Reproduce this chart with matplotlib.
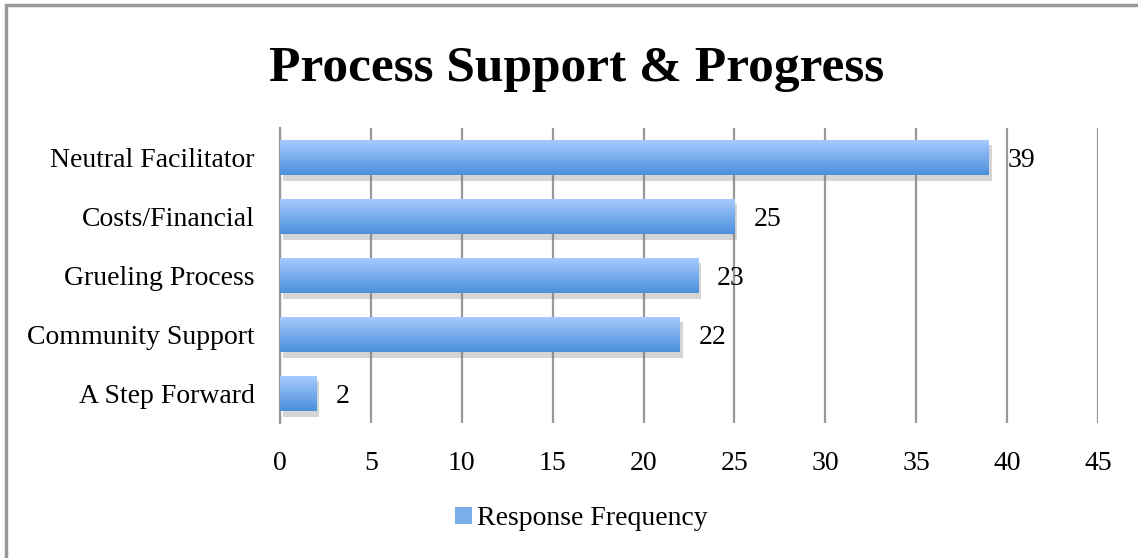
import matplotlib
matplotlib.use("Agg")
import matplotlib.pyplot as plt
import numpy as np
from matplotlib.colors import LinearSegmentedColormap
from matplotlib.patches import Rectangle
from matplotlib import patheffects as pe

categories = ["A Step Forward", "Community Support", "Grueling Process",
              "Costs/Financial", "Neutral Facilitator"]
values = [2, 22, 23, 25, 39]
xticks = [0, 5, 10, 15, 20, 25, 30, 35, 40, 45]
title = "Process Support & Progress"
series_name = "Response Frequency"

plt.rcParams['font.family'] = ['Liberation Serif', 'DejaVu Serif']

fig = plt.figure(figsize=(11.38, 5.58), dpi=100)
ax = fig.add_axes([280 / 1138, 135 / 558, 818 / 1138, 295 / 558])

grad = LinearSegmentedColormap.from_list("bar", ["#4b8fdb", "#a9ccff"])
ypos = np.arange(len(categories))
bar_h = 0.6

bars = ax.barh(ypos, values, height=bar_h, color="#7aaeea", zorder=3,
               path_effects=[pe.SimplePatchShadow(offset=(2, -4), shadow_rgbFace="#777777", alpha=0.3),
                             pe.Normal()])
g = np.linspace(0, 1, 256).reshape(-1, 1)
for b, v, y in zip(bars, values, ypos):
    im = ax.imshow(g, cmap=grad, aspect="auto", origin="lower",
                   extent=(0, v, y - bar_h / 2, y + bar_h / 2), zorder=4)
    im.set_clip_path(b)
    ax.annotate(str(v), (v, y), xytext=(19, -3), textcoords="offset pixels",
                va="center", ha="left", fontsize=20, zorder=5)

ax.set_xlim(0, 45)
ax.set_ylim(-0.5, 4.5)
ax.set_xticks(xticks)
ax.set_yticks(ypos)
ax.set_yticklabels(categories)
ax.tick_params(axis="both", length=0, labelsize=20)
ax.tick_params(axis="x", pad=20)
ax.tick_params(axis="y", pad=18)
ax.grid(axis="x", color="#999999", linewidth=1.6, zorder=0)
for s in ["top", "right", "bottom"]:
    ax.spines[s].set_visible(False)
ax.spines["left"].set_color("#999999")
ax.spines["left"].set_linewidth(1.6)

fig.text(0.507, 0.876, title, ha="center", va="center", fontsize=37, fontweight="bold")

handle = Rectangle((0, 0), 1, 1, facecolor="#7aaeea")
leg = fig.legend([handle], [series_name], loc="center", bbox_to_anchor=(0.511, 0.07),
                 frameon=False, fontsize=20, handlelength=0.6, handleheight=0.6, handletextpad=0.2)

fig.patches.append(Rectangle((6 / 1138, -0.1), 1.2, 1.1 - 5.5 / 558, transform=fig.transFigure,
                             fill=False, edgecolor="#999999", linewidth=2.5))

fig.savefig("out.png", dpi=100)
